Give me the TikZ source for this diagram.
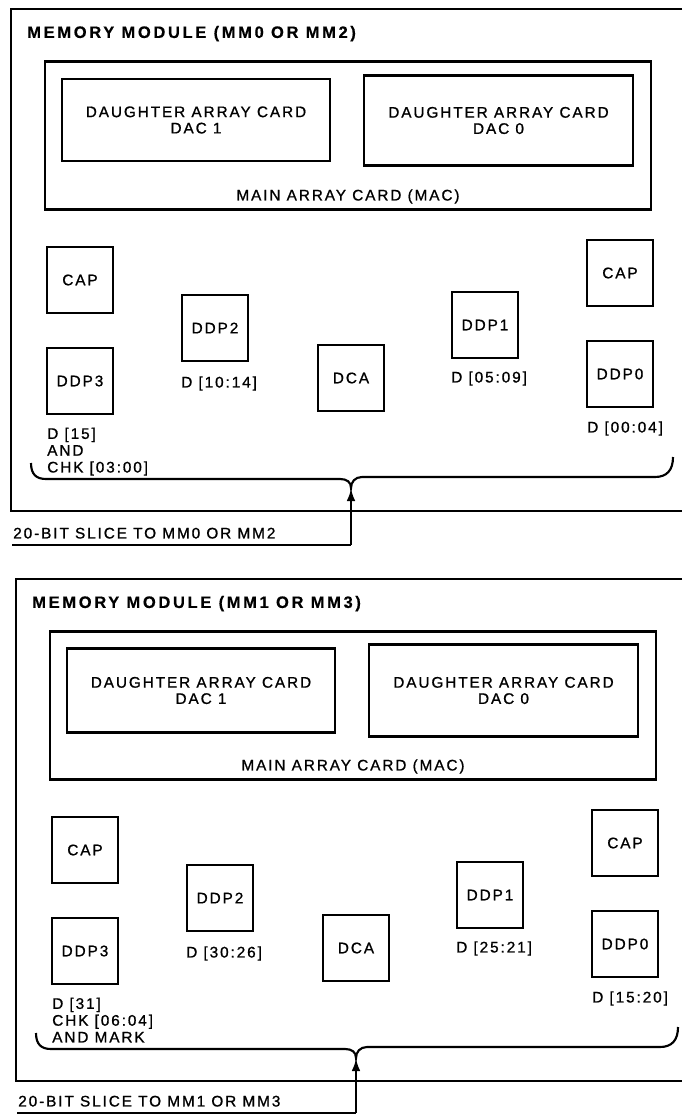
\documentclass[tikz,border=0pt]{standalone}
\usepackage{fontspec}
\usetikzlibrary{arrows.meta}
\newfontfamily\lblfont[LetterSpace=12.5,FakeBold=1.0]{Liberation Sans}
\newfontfamily\ttlfont[LetterSpace=16,FakeBold=0.5]{Liberation Sans}
\begin{document}
\begin{tikzpicture}[x=0.75pt,y=-0.75pt,
  frame/.style={line width=2pt},
  card/.style={draw,line width=1.6pt,inner sep=0pt,align=center,font=\lblfont\fontsize{11.5}{12.2}\selectfont},
  chip/.style={draw,line width=1.5pt,minimum width=50pt,minimum height=50pt,inner sep=0pt,font=\lblfont\fontsize{11.5}{12}\selectfont},
  lbl/.style={inner sep=0pt,font=\lblfont\fontsize{11.5}{12}\selectfont,text height=8.2pt,text depth=0pt},
  multi/.style={inner sep=0pt,font=\lblfont\fontsize{11.5}{12.6}\selectfont,align=left,anchor=north west},
  ttl/.style={inner sep=0pt,font=\ttlfont\bfseries\fontsize{12.4}{14}\selectfont,text height=8.9pt,text depth=0pt,anchor=west},
  brace/.style={line width=1.6pt},
  feed/.style={line width=1.1pt},
  feedarrow/.style={line width=1.1pt,-{Latex[length=9pt,width=6.5pt]}}
]
\useasboundingbox (0,0) rectangle (682,1116);

% ---------------- top module ----------------
\begin{scope}
\draw[frame] (682,9) -| (11,511) -- (682,511);
\node[ttl] (a-title) at (27,32) {MEMORY MODULE (MM0 OR MM2)};
\node[card,minimum width=454.5pt,minimum height=111pt] (a-mac) at (348,135.5) {};
\node[card,minimum width=201pt,minimum height=62pt] (a-dac1) at (196,120) {DAUGHTER ARRAY CARD\\DAC 1};
\node[card,minimum width=201.75pt,minimum height=67.5pt] (a-dac0) at (498.5,120.5) {DAUGHTER ARRAY CARD\\DAC 0};
\node[lbl] (a-maclbl) at (348,195) {MAIN ARRAY CARD (MAC)};
\node[chip] (a-capl) at (80,280) {CAP};
\node[chip] (a-ddp3) at (80,381) {DDP3};
\node[chip] (a-ddp2) at (215,328) {DDP2};
\node[chip] (a-dca) at (351,378) {DCA};
\node[chip] (a-ddp1) at (485,325) {DDP1};
\node[chip] (a-capr) at (620,273) {CAP};
\node[chip] (a-ddp0) at (620,374) {DDP0};
\node[lbl,anchor=west] (a-l2) at (181,382) {D [10:14]};
\node[lbl,anchor=west] (a-l1) at (451,377) {D [05:09]};
\node[lbl,anchor=west] (a-l0) at (587,427) {D [00:04]};
\node[multi] (a-l3) at (47,427.5) {D [15]\\AND\\CHK [03:00]};
\draw[brace] (31,463) .. controls (31,474) and (36,479) .. (46,479) -- (340,479)
  .. controls (347,479) and (351,482) .. (351,488)
  .. controls (351,482) and (355,477) .. (362,477) -- (655,477)
  .. controls (667,477) and (673,470) .. (673,457);
\coordinate (a-tip) at (351,489);
\coordinate (a-start) at (12,545);
\coordinate (a-corner) at (351,545);
\node[lbl,anchor=west] (a-slice) at (13,533) {20-BIT SLICE TO MM0 OR MM2};
\draw[feed] (a-start) -- (a-corner);
\draw[feedarrow] (a-corner) -- (a-tip);
\end{scope}

% ---------------- bottom module ----------------
\begin{scope}[shift={(5,570)}]
\draw[frame] (677,9) -| (11,511) -- (677,511);
\node[ttl] (b-title) at (27,32) {MEMORY MODULE (MM1 OR MM3)};
\node[card,minimum width=454.5pt,minimum height=111pt] (b-mac) at (348,135.5) {};
\node[card,minimum width=201pt,minimum height=63pt] (b-dac1) at (196,120.5) {DAUGHTER ARRAY CARD\\DAC 1};
\node[card,minimum width=201.75pt,minimum height=69pt] (b-dac0) at (498.5,120.5) {DAUGHTER ARRAY CARD\\DAC 0};
\node[lbl] (b-maclbl) at (348,195) {MAIN ARRAY CARD (MAC)};
\node[chip] (b-capl) at (80,280) {CAP};
\node[chip] (b-ddp3) at (80,381) {DDP3};
\node[chip] (b-ddp2) at (215,328) {DDP2};
\node[chip] (b-dca) at (351,378) {DCA};
\node[chip] (b-ddp1) at (485,325) {DDP1};
\node[chip] (b-capr) at (620,273) {CAP};
\node[chip] (b-ddp0) at (620,374) {DDP0};
\node[lbl,anchor=west] (b-l2) at (181,382) {D [30:26]};
\node[lbl,anchor=west] (b-l1) at (451,377) {D [25:21]};
\node[lbl,anchor=west] (b-l0) at (587,427) {D [15:20]};
\node[multi] (b-l3) at (47,427.5) {D [31]\\CHK [06:04]\\AND MARK};
\draw[brace] (31,463) .. controls (31,474) and (36,479) .. (46,479) -- (340,479)
  .. controls (347,479) and (351,482) .. (351,488)
  .. controls (351,482) and (355,477) .. (362,477) -- (655,477)
  .. controls (667,477) and (673,470) .. (673,457);
\coordinate (b-tip) at (351,489);
\coordinate (b-start) at (12,543);
\coordinate (b-corner) at (351,543);
\node[lbl,anchor=west] (b-slice) at (13,531) {20-BIT SLICE TO MM1 OR MM3};
\draw[feed] (b-start) -- (b-corner);
\draw[feedarrow] (b-corner) -- (b-tip);
\end{scope}
\end{tikzpicture}
\end{document}
